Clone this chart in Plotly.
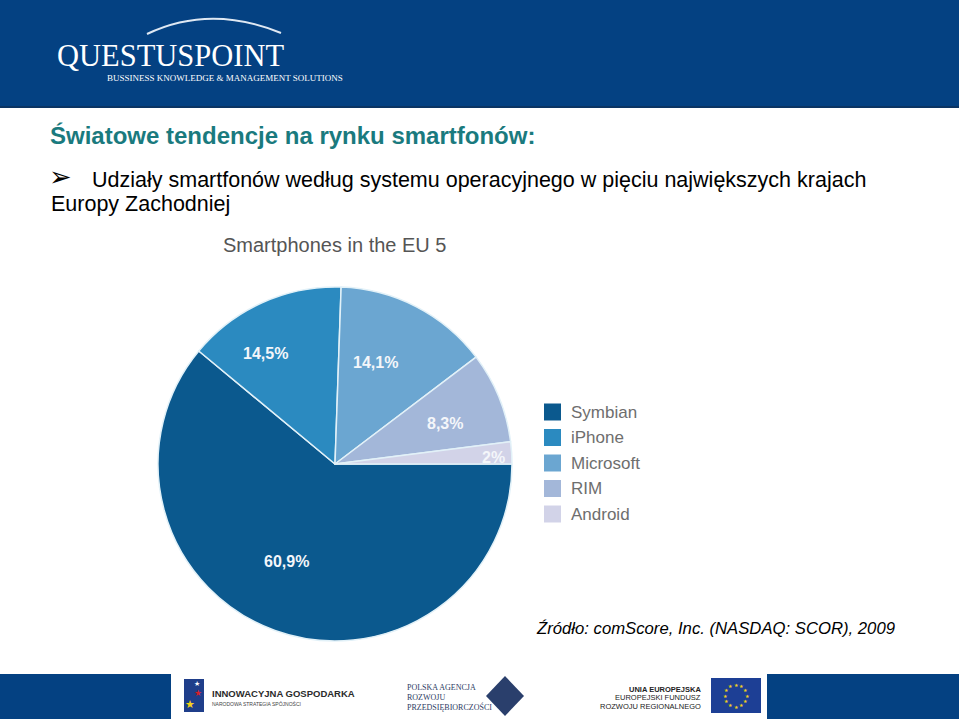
import math
import plotly.graph_objects as go

W, H = 959, 719

# chart data
labels = ['Symbian', 'iPhone', 'Microsoft', 'RIM', 'Android']
shares = [60.9, 14.5, 14.1, 8.3, 2.0]
share_text = ['60,9%', '14,5%', '14,1%', '8,3%', '2%']
colors = ['#0b598e', '#2b8ac0', '#6ba6d1', '#a3b7d9', '#d2d3e8']

# where the percentage labels sit on the slide (pixels)
label_pos = [(286, 561), (265, 354), (375, 362), (445, 423), (493, 457)]

SANS = 'Arial, Liberation Sans, sans-serif'
SERIF = 'Liberation Serif, DejaVu Serif, serif'


def px(x):
    return x / W


def py(y):
    return 1 - y / H


def rect(x0, y0, x1, y1, color, line=None):
    return dict(type='rect', xref='paper', yref='paper',
                x0=px(x0), x1=px(x1), y0=py(y1), y1=py(y0),
                fillcolor=color, line=line or dict(width=0), layer='below')


def text(x, y, s, size, color='#000', family=SANS, anchor='left', **kw):
    return dict(x=px(x), y=py(y), xref='paper', yref='paper', text=s,
                showarrow=False, xanchor=anchor, yanchor='middle',
                font=dict(size=size, color=color, family=family), **kw)


# pie, centre (335, 464), radius 177 px
cx, cy, r = 335, 464, 177
fig = go.Figure(go.Pie(
    labels=labels,
    values=shares,
    sort=False,
    direction='clockwise',
    rotation=90,
    marker=dict(colors=colors, line=dict(color='#e2f1f8', width=1.5)),
    textinfo='none',
    hoverinfo='label+percent',
    showlegend=False,
    domain=dict(x=[px(cx - r), px(cx + r)], y=[py(cy + r), py(cy - r)]),
))

shapes = []
annotations = []

# header band + logo
shapes.append(rect(0, 0, W, 106, '#044182'))
shapes.append(rect(0, 106, W, 108, '#0b3463'))
shapes.append(dict(type='path', xref='paper', yref='paper',
                   path='M {} {} Q {} {} {} {}'.format(px(147), py(34), px(210), py(4), px(281), py(33)),
                   line=dict(color='#dfe8f3', width=2)))
annotations.append(text(55, 56, 'QUESTUSPOINT', 30.5, '#ffffff', SERIF))
annotations.append(text(105, 78, 'BUSSINESS KNOWLEDGE &amp; MANAGEMENT SOLUTIONS', 9, '#ffffff', SERIF))

# slide text
annotations.append(text(48, 135, '<b>Światowe tendencje na rynku smartfonów:</b>', 24, '#1a7a7e'))
annotations.append(text(47, 177, '➢', 27, '#000', 'DejaVu Sans'))
annotations.append(text(90, 180, 'Udziały smartfonów według systemu operacyjnego w pięciu największych krajach', 21.5))
annotations.append(text(49, 204, 'Europy Zachodniej', 21.5))

# chart title
annotations.append(text(334, 245, 'Smartphones in the EU 5', 20, '#555555', anchor='center'))

# percentage labels
for (lx, ly), s in zip(label_pos, share_text):
    annotations.append(text(lx, ly, '<b>' + s + '</b>', 16, '#f4f6fa', anchor='center'))

# legend
for i, (lab, col) in enumerate(zip(labels, colors)):
    yc = 412 + i * 25.5
    shapes.append(rect(544, yc - 8.5, 561, yc + 8.5, col))
    annotations.append(text(569, yc, lab, 17, '#6e6e6e'))

# source
annotations.append(text(534, 628, '<i>Źródło: comScore, Inc. (NASDAQ: SCOR), 2009</i>', 16.7))

# footer
shapes.append(rect(0, 674, 171, H, '#044182'))
shapes.append(rect(767, 674, W, H, '#044182'))

# innowacyjna gospodarka logo
shapes.append(rect(184, 679, 204, 712, '#1f3e8a'))
annotations.append(text(190, 704, '★', 11, '#f4d11a', 'DejaVu Sans', anchor='center'))
annotations.append(text(198, 693, '★', 9, '#d4202a', 'DejaVu Sans', anchor='center'))
annotations.append(text(197, 684, '★', 7, '#ffffff', 'DejaVu Sans', anchor='center'))
annotations.append(text(210, 693, '<b>INNOWACYJNA GOSPODARKA</b>', 9.5, '#2b2b2b',
                        'Liberation Sans Narrow, Arial Narrow, Liberation Sans'))
annotations.append(text(210, 703, 'NARODOWA STRATEGIA SPÓJNOŚCI', 5, '#444444'))

# PARP logo
for i, s in enumerate(['POLSKA AGENCJA', 'ROZWOJU', 'PRZEDSIĘBIORCZOŚCI']):
    annotations.append(text(405, 687 + i * 10, s, 8, '#2d3b63', SERIF))
shapes.append(dict(type='path', xref='paper', yref='paper',
                   path='M {} {} L {} {} L {} {} L {} {} Z'.format(
                       px(505), py(676), px(524), py(696), px(505), py(716), px(486), py(696)),
                   fillcolor='#2a3f6c', line=dict(width=0)))
shapes.append(rect(498, 689, 512, 703, '#c9ced8'))
shapes.append(rect(503, 680, 507, 712, '#ffffff'))
shapes.append(rect(490, 694, 520, 698, '#ffffff'))

# UE logo
for i, s in enumerate(['<b>UNIA EUROPEJSKA</b>', 'EUROPEJSKI FUNDUSZ', 'ROZWOJU REGIONALNEGO']):
    annotations.append(text(703, 689 + i * 8.5, s, 7.5, '#222222',
                            'Liberation Sans Narrow, Arial Narrow, Liberation Sans', anchor='right'))
shapes.append(rect(711, 678, 761, 713, '#1d3f95'))
for k in range(12):
    a = 2 * math.pi * k / 12
    annotations.append(text(736 + 11 * math.cos(a), 695.5 + 11 * math.sin(a), '★', 5,
                            '#f2d21b', 'DejaVu Sans', anchor='center'))

fig.update_layout(
    width=W,
    height=H,
    margin=dict(l=0, r=0, t=0, b=0),
    paper_bgcolor='#ffffff',
    plot_bgcolor='#ffffff',
    shapes=shapes,
    annotations=annotations,
)

# page body has a default 8px margin; drop it so the slide fills the window
fig.write_html('out.html', config={'displayModeBar': False},
               post_script="document.body.style.margin='0';document.body.style.overflow='hidden';")
